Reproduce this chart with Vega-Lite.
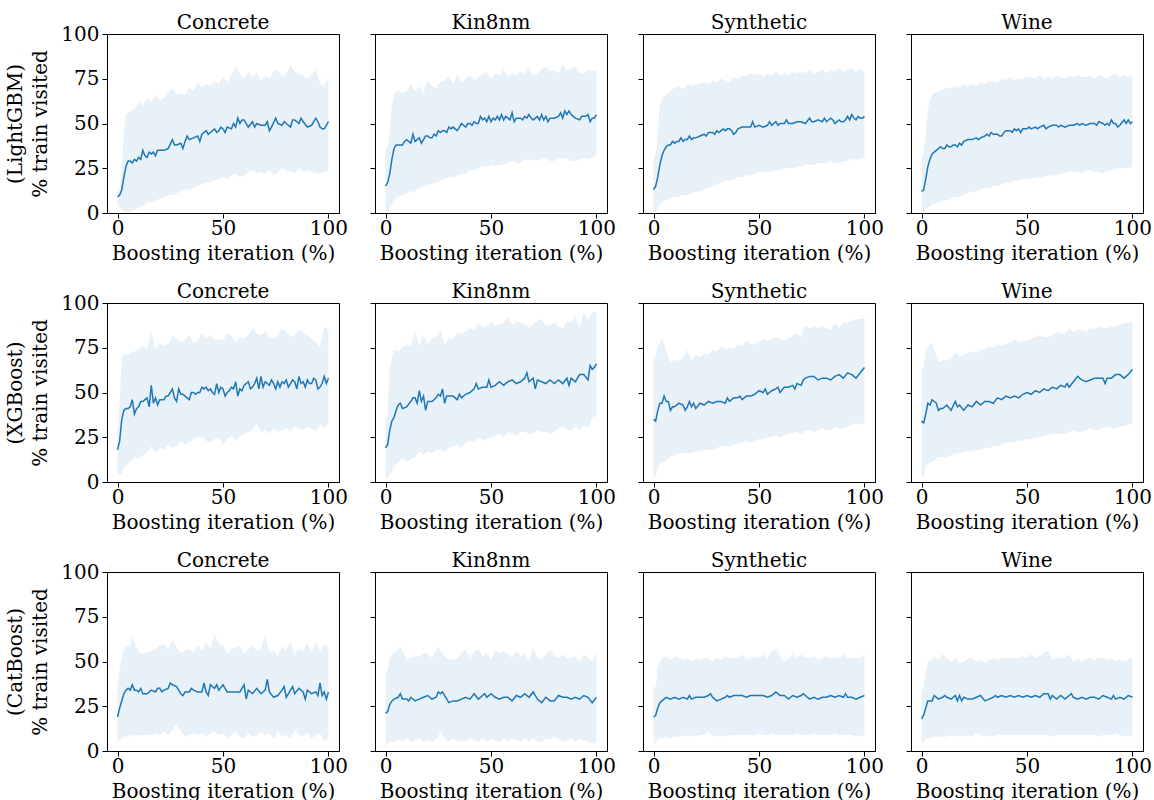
{
"$schema": "https://vega.github.io/schema/vega-lite/v6.json",
"padding": {"left": 5, "top": 12, "right": 5, "bottom": 5},
"config": {
 "font": "DejaVu Serif",
 "view": {"stroke": "#000", "strokeWidth": 1},
 "axis": {"grid": false, "domainColor": "#000", "domainWidth": 1, "tickColor": "#000", "tickWidth": 1, "tickSize": 5, "labelFont": "DejaVu Serif", "labelFontSize": 20, "labelColor": "#000", "labelPadding": 3, "titleFont": "DejaVu Serif", "titleFontSize": 20, "titleFontWeight": "normal", "titleColor": "#000", "labelFlush": false, "labelOverlap": false},
 "axisX": {"titlePadding": 5, "labelPadding": 0},
 "axisY": {"titlePadding": 10, "titleLineHeight": 25},
 "title": {"font": "DejaVu Serif", "fontSize": 20, "fontWeight": "normal", "color": "#000", "offset": 1, "frame": "group"}
},
"datasets": {
"LightGBM_Concrete_mean": [{"x":0,"y":9},{"x":1,"y":10},{"x":2,"y":13},{"x":3,"y":20},{"x":4,"y":26},{"x":5,"y":29},{"x":6,"y":29},{"x":7,"y":28},{"x":8,"y":30},{"x":9,"y":29},{"x":10,"y":31},{"x":11,"y":30},{"x":12,"y":35},{"x":13,"y":32},{"x":14,"y":31},{"x":15,"y":34},{"x":16,"y":33},{"x":17,"y":34},{"x":18,"y":32},{"x":19,"y":35},{"x":20,"y":35},{"x":22,"y":35},{"x":24,"y":36},{"x":26,"y":41},{"x":27,"y":38},{"x":28,"y":38},{"x":30,"y":39},{"x":31,"y":36},{"x":32,"y":40},{"x":33,"y":43},{"x":34,"y":41},{"x":36,"y":42},{"x":38,"y":43},{"x":39,"y":40},{"x":40,"y":44},{"x":42,"y":46},{"x":43,"y":44},{"x":44,"y":45},{"x":46,"y":47},{"x":47,"y":45},{"x":48,"y":46},{"x":49,"y":48},{"x":50,"y":47},{"x":51,"y":45},{"x":52,"y":48},{"x":54,"y":47},{"x":55,"y":50},{"x":56,"y":48},{"x":57,"y":53},{"x":58,"y":50},{"x":59,"y":52},{"x":60,"y":52},{"x":62,"y":48},{"x":64,"y":51},{"x":65,"y":48},{"x":66,"y":50},{"x":68,"y":49},{"x":70,"y":49},{"x":71,"y":51},{"x":72,"y":46},{"x":73,"y":48},{"x":75,"y":53},{"x":76,"y":50},{"x":78,"y":49},{"x":79,"y":51},{"x":80,"y":50},{"x":82,"y":48},{"x":83,"y":52},{"x":84,"y":52},{"x":86,"y":50},{"x":87,"y":53},{"x":88,"y":51},{"x":90,"y":48},{"x":92,"y":49},{"x":94,"y":53},{"x":95,"y":51},{"x":96,"y":48},{"x":97,"y":47},{"x":98,"y":47},{"x":99,"y":49},{"x":100,"y":51}],
"LightGBM_Concrete_band": [{"x":0,"lo":4,"hi":11},{"x":1,"lo":3,"hi":14},{"x":2,"lo":2,"hi":22},{"x":3,"lo":1,"hi":45},{"x":4,"lo":0,"hi":55},{"x":5,"lo":0,"hi":56},{"x":6,"lo":1,"hi":57},{"x":8,"lo":2,"hi":58},{"x":10,"lo":3,"hi":62},{"x":12,"lo":4,"hi":60},{"x":14,"lo":6,"hi":64},{"x":16,"lo":6,"hi":62},{"x":18,"lo":7,"hi":66},{"x":20,"lo":8,"hi":63},{"x":22,"lo":9,"hi":64},{"x":24,"lo":10,"hi":67},{"x":26,"lo":10,"hi":70},{"x":28,"lo":11,"hi":66},{"x":30,"lo":12,"hi":67},{"x":32,"lo":13,"hi":66},{"x":34,"lo":13,"hi":70},{"x":36,"lo":14,"hi":68},{"x":38,"lo":15,"hi":73},{"x":40,"lo":16,"hi":70},{"x":42,"lo":17,"hi":72},{"x":44,"lo":17,"hi":71},{"x":46,"lo":18,"hi":74},{"x":48,"lo":19,"hi":72},{"x":50,"lo":20,"hi":76},{"x":52,"lo":19,"hi":73},{"x":54,"lo":21,"hi":77},{"x":56,"lo":22,"hi":82},{"x":58,"lo":20,"hi":78},{"x":60,"lo":21,"hi":75},{"x":62,"lo":23,"hi":79},{"x":64,"lo":24,"hi":76},{"x":66,"lo":22,"hi":78},{"x":68,"lo":23,"hi":74},{"x":70,"lo":22,"hi":77},{"x":72,"lo":24,"hi":75},{"x":74,"lo":21,"hi":79},{"x":76,"lo":23,"hi":80},{"x":78,"lo":25,"hi":76},{"x":80,"lo":24,"hi":77},{"x":82,"lo":23,"hi":83},{"x":84,"lo":22,"hi":79},{"x":86,"lo":25,"hi":78},{"x":88,"lo":23,"hi":77},{"x":90,"lo":24,"hi":75},{"x":92,"lo":23,"hi":77},{"x":94,"lo":22,"hi":81},{"x":96,"lo":22,"hi":72},{"x":98,"lo":23,"hi":71},{"x":100,"lo":24,"hi":76}],
"LightGBM_Kin8nm_mean": [{"x":0,"y":15},{"x":1,"y":17},{"x":2,"y":22},{"x":3,"y":30},{"x":4,"y":36},{"x":5,"y":38},{"x":6,"y":38},{"x":7,"y":38},{"x":8,"y":38},{"x":9,"y":40},{"x":10,"y":41},{"x":11,"y":40},{"x":12,"y":39},{"x":13,"y":44},{"x":14,"y":40},{"x":15,"y":41},{"x":16,"y":42},{"x":17,"y":39},{"x":18,"y":41},{"x":19,"y":43},{"x":20,"y":43},{"x":21,"y":42},{"x":22,"y":42},{"x":23,"y":44},{"x":24,"y":43},{"x":25,"y":46},{"x":26,"y":45},{"x":27,"y":46},{"x":28,"y":46},{"x":29,"y":45},{"x":30,"y":48},{"x":31,"y":47},{"x":32,"y":48},{"x":33,"y":47},{"x":34,"y":46},{"x":35,"y":48},{"x":36,"y":50},{"x":37,"y":49},{"x":38,"y":48},{"x":39,"y":50},{"x":40,"y":50},{"x":41,"y":49},{"x":42,"y":51},{"x":43,"y":50},{"x":44,"y":50},{"x":45,"y":54},{"x":46,"y":52},{"x":47,"y":53},{"x":48,"y":51},{"x":49,"y":54},{"x":50,"y":51},{"x":51,"y":53},{"x":52,"y":52},{"x":53,"y":54},{"x":54,"y":52},{"x":55,"y":55},{"x":56,"y":52},{"x":57,"y":54},{"x":58,"y":53},{"x":59,"y":52},{"x":60,"y":56},{"x":61,"y":51},{"x":62,"y":53},{"x":64,"y":53},{"x":65,"y":52},{"x":66,"y":54},{"x":67,"y":53},{"x":68,"y":55},{"x":69,"y":53},{"x":70,"y":52},{"x":72,"y":54},{"x":73,"y":52},{"x":74,"y":55},{"x":75,"y":52},{"x":76,"y":54},{"x":77,"y":51},{"x":78,"y":53},{"x":80,"y":53},{"x":82,"y":54},{"x":83,"y":56},{"x":84,"y":53},{"x":85,"y":57},{"x":86,"y":55},{"x":87,"y":57},{"x":88,"y":55},{"x":89,"y":54},{"x":90,"y":53},{"x":92,"y":52},{"x":93,"y":54},{"x":95,"y":54},{"x":96,"y":55},{"x":97,"y":51},{"x":98,"y":53},{"x":99,"y":53},{"x":100,"y":55}],
"LightGBM_Kin8nm_band": [{"x":0,"lo":0,"hi":35},{"x":1,"lo":0,"hi":37},{"x":2,"lo":3,"hi":45},{"x":3,"lo":5,"hi":60},{"x":4,"lo":7,"hi":66},{"x":5,"lo":8,"hi":68},{"x":6,"lo":9,"hi":68},{"x":8,"lo":10,"hi":67},{"x":10,"lo":11,"hi":68},{"x":12,"lo":12,"hi":72},{"x":14,"lo":12,"hi":68},{"x":16,"lo":14,"hi":71},{"x":18,"lo":15,"hi":67},{"x":20,"lo":16,"hi":74},{"x":22,"lo":16,"hi":71},{"x":24,"lo":17,"hi":70},{"x":26,"lo":18,"hi":73},{"x":28,"lo":19,"hi":74},{"x":30,"lo":20,"hi":76},{"x":32,"lo":20,"hi":72},{"x":34,"lo":21,"hi":77},{"x":36,"lo":22,"hi":73},{"x":38,"lo":22,"hi":75},{"x":40,"lo":24,"hi":77},{"x":42,"lo":24,"hi":74},{"x":44,"lo":25,"hi":76},{"x":46,"lo":26,"hi":78},{"x":48,"lo":26,"hi":79},{"x":50,"lo":27,"hi":75},{"x":52,"lo":26,"hi":78},{"x":54,"lo":27,"hi":77},{"x":56,"lo":27,"hi":80},{"x":58,"lo":28,"hi":76},{"x":60,"lo":29,"hi":78},{"x":62,"lo":28,"hi":77},{"x":64,"lo":28,"hi":79},{"x":66,"lo":30,"hi":78},{"x":68,"lo":29,"hi":81},{"x":70,"lo":30,"hi":77},{"x":72,"lo":29,"hi":78},{"x":74,"lo":30,"hi":80},{"x":76,"lo":31,"hi":82},{"x":78,"lo":29,"hi":79},{"x":80,"lo":29,"hi":80},{"x":82,"lo":31,"hi":78},{"x":84,"lo":30,"hi":83},{"x":86,"lo":31,"hi":79},{"x":88,"lo":29,"hi":81},{"x":90,"lo":29,"hi":82},{"x":92,"lo":30,"hi":78},{"x":94,"lo":31,"hi":78},{"x":96,"lo":30,"hi":80},{"x":98,"lo":31,"hi":79},{"x":100,"lo":32,"hi":80}],
"LightGBM_Synthetic_mean": [{"x":0,"y":13},{"x":1,"y":15},{"x":2,"y":20},{"x":3,"y":27},{"x":4,"y":32},{"x":5,"y":35},{"x":6,"y":37},{"x":7,"y":38},{"x":8,"y":38},{"x":9,"y":40},{"x":10,"y":39},{"x":11,"y":40},{"x":12,"y":40},{"x":13,"y":42},{"x":14,"y":40},{"x":15,"y":41},{"x":16,"y":41},{"x":17,"y":43},{"x":18,"y":41},{"x":19,"y":42},{"x":20,"y":42},{"x":22,"y":43},{"x":24,"y":44},{"x":25,"y":43},{"x":26,"y":45},{"x":28,"y":45},{"x":29,"y":44},{"x":30,"y":46},{"x":31,"y":45},{"x":32,"y":46},{"x":33,"y":47},{"x":34,"y":46},{"x":35,"y":47},{"x":36,"y":47},{"x":37,"y":46},{"x":38,"y":44},{"x":39,"y":45},{"x":40,"y":47},{"x":42,"y":48},{"x":44,"y":48},{"x":46,"y":48},{"x":47,"y":51},{"x":48,"y":48},{"x":50,"y":49},{"x":52,"y":48},{"x":54,"y":49},{"x":55,"y":51},{"x":56,"y":49},{"x":58,"y":51},{"x":59,"y":49},{"x":60,"y":50},{"x":62,"y":50},{"x":63,"y":52},{"x":64,"y":50},{"x":66,"y":50},{"x":68,"y":51},{"x":70,"y":51},{"x":72,"y":50},{"x":74,"y":53},{"x":75,"y":51},{"x":76,"y":51},{"x":78,"y":52},{"x":80,"y":51},{"x":81,"y":53},{"x":82,"y":51},{"x":84,"y":53},{"x":85,"y":52},{"x":86,"y":50},{"x":88,"y":52},{"x":89,"y":51},{"x":90,"y":51},{"x":91,"y":52},{"x":92,"y":54},{"x":93,"y":52},{"x":94,"y":55},{"x":95,"y":53},{"x":96,"y":52},{"x":97,"y":54},{"x":98,"y":53},{"x":99,"y":53},{"x":100,"y":54}],
"LightGBM_Synthetic_band": [{"x":0,"lo":0,"hi":30},{"x":1,"lo":0,"hi":33},{"x":2,"lo":3,"hi":45},{"x":3,"lo":5,"hi":60},{"x":4,"lo":6,"hi":63},{"x":5,"lo":7,"hi":65},{"x":6,"lo":7,"hi":66},{"x":8,"lo":8,"hi":68},{"x":10,"lo":9,"hi":70},{"x":12,"lo":9,"hi":71},{"x":14,"lo":10,"hi":69},{"x":16,"lo":10,"hi":72},{"x":18,"lo":11,"hi":71},{"x":20,"lo":12,"hi":72},{"x":22,"lo":12,"hi":72},{"x":24,"lo":13,"hi":73},{"x":26,"lo":14,"hi":72},{"x":28,"lo":15,"hi":74},{"x":30,"lo":16,"hi":73},{"x":32,"lo":17,"hi":75},{"x":34,"lo":18,"hi":74},{"x":36,"lo":18,"hi":73},{"x":38,"lo":19,"hi":76},{"x":40,"lo":20,"hi":75},{"x":42,"lo":20,"hi":77},{"x":44,"lo":21,"hi":76},{"x":46,"lo":21,"hi":78},{"x":48,"lo":22,"hi":77},{"x":50,"lo":23,"hi":78},{"x":52,"lo":23,"hi":76},{"x":54,"lo":23,"hi":78},{"x":56,"lo":23,"hi":77},{"x":58,"lo":24,"hi":79},{"x":60,"lo":24,"hi":77},{"x":62,"lo":25,"hi":78},{"x":64,"lo":25,"hi":77},{"x":66,"lo":25,"hi":79},{"x":68,"lo":26,"hi":78},{"x":70,"lo":26,"hi":79},{"x":72,"lo":27,"hi":78},{"x":74,"lo":27,"hi":80},{"x":76,"lo":27,"hi":78},{"x":78,"lo":28,"hi":79},{"x":80,"lo":28,"hi":80},{"x":82,"lo":28,"hi":78},{"x":84,"lo":29,"hi":80},{"x":86,"lo":28,"hi":79},{"x":88,"lo":28,"hi":81},{"x":90,"lo":29,"hi":79},{"x":92,"lo":29,"hi":80},{"x":94,"lo":30,"hi":81},{"x":96,"lo":30,"hi":79},{"x":98,"lo":30,"hi":80},{"x":100,"lo":31,"hi":79}],
"LightGBM_Wine_mean": [{"x":0,"y":12},{"x":1,"y":13},{"x":2,"y":19},{"x":3,"y":26},{"x":4,"y":30},{"x":5,"y":33},{"x":6,"y":34},{"x":7,"y":35},{"x":8,"y":36},{"x":9,"y":37},{"x":10,"y":36},{"x":11,"y":36},{"x":12,"y":38},{"x":13,"y":37},{"x":14,"y":37},{"x":15,"y":38},{"x":16,"y":38},{"x":17,"y":37},{"x":18,"y":39},{"x":19,"y":38},{"x":20,"y":40},{"x":22,"y":41},{"x":24,"y":41},{"x":26,"y":42},{"x":27,"y":41},{"x":28,"y":42},{"x":30,"y":43},{"x":31,"y":44},{"x":32,"y":43},{"x":33,"y":45},{"x":34,"y":44},{"x":35,"y":44},{"x":36,"y":44},{"x":37,"y":43},{"x":38,"y":43},{"x":39,"y":45},{"x":40,"y":46},{"x":42,"y":46},{"x":43,"y":45},{"x":44,"y":47},{"x":45,"y":46},{"x":46,"y":47},{"x":47,"y":45},{"x":48,"y":47},{"x":50,"y":47},{"x":51,"y":48},{"x":52,"y":47},{"x":54,"y":48},{"x":55,"y":47},{"x":56,"y":48},{"x":58,"y":49},{"x":59,"y":47},{"x":60,"y":48},{"x":62,"y":49},{"x":64,"y":49},{"x":65,"y":48},{"x":66,"y":49},{"x":68,"y":48},{"x":70,"y":49},{"x":72,"y":49},{"x":74,"y":50},{"x":75,"y":49},{"x":76,"y":50},{"x":78,"y":49},{"x":80,"y":50},{"x":82,"y":50},{"x":83,"y":49},{"x":84,"y":51},{"x":86,"y":50},{"x":87,"y":49},{"x":88,"y":50},{"x":89,"y":49},{"x":90,"y":52},{"x":91,"y":50},{"x":92,"y":50},{"x":93,"y":48},{"x":94,"y":49},{"x":96,"y":52},{"x":97,"y":50},{"x":98,"y":52},{"x":99,"y":50},{"x":100,"y":51}],
"LightGBM_Wine_band": [{"x":0,"lo":0,"hi":29},{"x":1,"lo":0,"hi":33},{"x":2,"lo":2,"hi":45},{"x":3,"lo":3,"hi":58},{"x":4,"lo":4,"hi":63},{"x":5,"lo":5,"hi":66},{"x":6,"lo":5,"hi":67},{"x":8,"lo":6,"hi":68},{"x":10,"lo":7,"hi":69},{"x":12,"lo":7,"hi":70},{"x":14,"lo":8,"hi":70},{"x":16,"lo":9,"hi":71},{"x":18,"lo":9,"hi":70},{"x":20,"lo":10,"hi":72},{"x":22,"lo":11,"hi":71},{"x":24,"lo":12,"hi":72},{"x":26,"lo":12,"hi":71},{"x":28,"lo":13,"hi":73},{"x":30,"lo":14,"hi":72},{"x":32,"lo":14,"hi":74},{"x":34,"lo":15,"hi":73},{"x":36,"lo":15,"hi":73},{"x":38,"lo":16,"hi":75},{"x":40,"lo":17,"hi":74},{"x":42,"lo":17,"hi":76},{"x":44,"lo":18,"hi":74},{"x":46,"lo":18,"hi":75},{"x":48,"lo":19,"hi":75},{"x":50,"lo":19,"hi":76},{"x":52,"lo":19,"hi":76},{"x":54,"lo":20,"hi":75},{"x":56,"lo":20,"hi":77},{"x":58,"lo":20,"hi":75},{"x":60,"lo":21,"hi":76},{"x":62,"lo":21,"hi":75},{"x":64,"lo":21,"hi":77},{"x":66,"lo":22,"hi":76},{"x":68,"lo":22,"hi":75},{"x":70,"lo":23,"hi":77},{"x":72,"lo":23,"hi":76},{"x":74,"lo":23,"hi":77},{"x":76,"lo":22,"hi":76},{"x":78,"lo":24,"hi":76},{"x":80,"lo":24,"hi":77},{"x":82,"lo":23,"hi":75},{"x":84,"lo":23,"hi":77},{"x":86,"lo":22,"hi":76},{"x":88,"lo":23,"hi":75},{"x":90,"lo":24,"hi":77},{"x":92,"lo":25,"hi":78},{"x":94,"lo":25,"hi":76},{"x":96,"lo":25,"hi":77},{"x":98,"lo":25,"hi":76},{"x":100,"lo":26,"hi":77}],
"XGBoost_Concrete_mean": [{"x":0,"y":18},{"x":1,"y":23},{"x":2,"y":35},{"x":3,"y":40},{"x":4,"y":41},{"x":5,"y":41},{"x":6,"y":42},{"x":7,"y":46},{"x":8,"y":38},{"x":9,"y":41},{"x":10,"y":42},{"x":11,"y":45},{"x":12,"y":45},{"x":13,"y":46},{"x":14,"y":47},{"x":15,"y":42},{"x":16,"y":54},{"x":17,"y":44},{"x":18,"y":47},{"x":19,"y":43},{"x":20,"y":46},{"x":21,"y":46},{"x":22,"y":46},{"x":23,"y":48},{"x":24,"y":48},{"x":25,"y":50},{"x":26,"y":52},{"x":27,"y":47},{"x":28,"y":45},{"x":29,"y":52},{"x":30,"y":49},{"x":31,"y":49},{"x":32,"y":48},{"x":33,"y":47},{"x":34,"y":46},{"x":35,"y":50},{"x":36,"y":50},{"x":37,"y":49},{"x":38,"y":50},{"x":39,"y":50},{"x":40,"y":53},{"x":41,"y":52},{"x":42,"y":53},{"x":43,"y":51},{"x":44,"y":52},{"x":45,"y":50},{"x":46,"y":49},{"x":47,"y":55},{"x":48,"y":50},{"x":49,"y":53},{"x":50,"y":52},{"x":51,"y":48},{"x":52,"y":50},{"x":53,"y":51},{"x":54,"y":53},{"x":55,"y":52},{"x":56,"y":56},{"x":57,"y":48},{"x":58,"y":52},{"x":59,"y":51},{"x":60,"y":54},{"x":61,"y":55},{"x":62,"y":56},{"x":63,"y":52},{"x":64,"y":53},{"x":65,"y":55},{"x":66,"y":58},{"x":67,"y":52},{"x":68,"y":59},{"x":69,"y":53},{"x":70,"y":56},{"x":71,"y":55},{"x":72,"y":54},{"x":73,"y":57},{"x":74,"y":55},{"x":75,"y":52},{"x":76,"y":56},{"x":77,"y":53},{"x":78,"y":56},{"x":79,"y":55},{"x":80,"y":57},{"x":81,"y":53},{"x":82,"y":55},{"x":83,"y":57},{"x":84,"y":56},{"x":85,"y":52},{"x":86,"y":59},{"x":87,"y":55},{"x":88,"y":56},{"x":89,"y":53},{"x":90,"y":57},{"x":91,"y":55},{"x":92,"y":55},{"x":93,"y":58},{"x":94,"y":57},{"x":95,"y":52},{"x":96,"y":53},{"x":97,"y":55},{"x":98,"y":59},{"x":99,"y":55},{"x":100,"y":58}],
"XGBoost_Concrete_band": [{"x":0,"lo":5,"hi":25},{"x":1,"lo":4,"hi":45},{"x":2,"lo":5,"hi":70},{"x":3,"lo":8,"hi":72},{"x":4,"lo":9,"hi":71},{"x":5,"lo":10,"hi":71},{"x":6,"lo":11,"hi":72},{"x":8,"lo":14,"hi":73},{"x":10,"lo":13,"hi":74},{"x":12,"lo":15,"hi":76},{"x":14,"lo":17,"hi":74},{"x":16,"lo":20,"hi":84},{"x":18,"lo":16,"hi":74},{"x":20,"lo":19,"hi":78},{"x":22,"lo":18,"hi":76},{"x":24,"lo":21,"hi":77},{"x":26,"lo":19,"hi":82},{"x":28,"lo":20,"hi":80},{"x":30,"lo":23,"hi":78},{"x":32,"lo":21,"hi":79},{"x":34,"lo":22,"hi":82},{"x":36,"lo":24,"hi":78},{"x":38,"lo":25,"hi":79},{"x":40,"lo":25,"hi":83},{"x":42,"lo":23,"hi":80},{"x":44,"lo":22,"hi":82},{"x":46,"lo":24,"hi":79},{"x":48,"lo":25,"hi":80},{"x":50,"lo":21,"hi":79},{"x":52,"lo":24,"hi":83},{"x":54,"lo":26,"hi":82},{"x":56,"lo":23,"hi":78},{"x":58,"lo":25,"hi":81},{"x":60,"lo":27,"hi":80},{"x":62,"lo":28,"hi":82},{"x":64,"lo":29,"hi":86},{"x":66,"lo":33,"hi":83},{"x":68,"lo":28,"hi":82},{"x":70,"lo":29,"hi":84},{"x":72,"lo":27,"hi":81},{"x":74,"lo":30,"hi":80},{"x":76,"lo":28,"hi":82},{"x":78,"lo":29,"hi":86},{"x":80,"lo":30,"hi":84},{"x":82,"lo":28,"hi":81},{"x":84,"lo":31,"hi":82},{"x":86,"lo":30,"hi":85},{"x":88,"lo":29,"hi":84},{"x":90,"lo":31,"hi":82},{"x":92,"lo":30,"hi":80},{"x":94,"lo":28,"hi":78},{"x":96,"lo":32,"hi":75},{"x":98,"lo":30,"hi":87},{"x":100,"lo":33,"hi":85}],
"XGBoost_Kin8nm_mean": [{"x":0,"y":19},{"x":1,"y":21},{"x":2,"y":29},{"x":3,"y":34},{"x":4,"y":36},{"x":5,"y":40},{"x":6,"y":43},{"x":7,"y":44},{"x":8,"y":41},{"x":10,"y":42},{"x":12,"y":45},{"x":13,"y":47},{"x":14,"y":47},{"x":15,"y":44},{"x":16,"y":51},{"x":17,"y":45},{"x":18,"y":48},{"x":19,"y":40},{"x":20,"y":45},{"x":22,"y":45},{"x":24,"y":47},{"x":25,"y":49},{"x":26,"y":48},{"x":27,"y":52},{"x":28,"y":44},{"x":29,"y":48},{"x":30,"y":48},{"x":32,"y":48},{"x":34,"y":46},{"x":35,"y":49},{"x":36,"y":47},{"x":38,"y":49},{"x":40,"y":50},{"x":42,"y":52},{"x":43,"y":55},{"x":44,"y":52},{"x":46,"y":53},{"x":48,"y":53},{"x":49,"y":57},{"x":50,"y":53},{"x":52,"y":54},{"x":54,"y":56},{"x":56,"y":54},{"x":58,"y":56},{"x":60,"y":57},{"x":62,"y":55},{"x":64,"y":56},{"x":66,"y":58},{"x":67,"y":61},{"x":68,"y":56},{"x":70,"y":58},{"x":71,"y":52},{"x":72,"y":57},{"x":74,"y":56},{"x":76,"y":55},{"x":78,"y":57},{"x":80,"y":55},{"x":82,"y":57},{"x":84,"y":55},{"x":86,"y":58},{"x":87,"y":54},{"x":88,"y":58},{"x":90,"y":56},{"x":92,"y":60},{"x":94,"y":60},{"x":96,"y":57},{"x":97,"y":65},{"x":98,"y":63},{"x":99,"y":64},{"x":100,"y":66}],
"XGBoost_Kin8nm_band": [{"x":0,"lo":2,"hi":36},{"x":1,"lo":2,"hi":38},{"x":2,"lo":4,"hi":64},{"x":3,"lo":6,"hi":69},{"x":4,"lo":9,"hi":74},{"x":6,"lo":11,"hi":73},{"x":8,"lo":13,"hi":75},{"x":10,"lo":11,"hi":77},{"x":12,"lo":13,"hi":76},{"x":14,"lo":14,"hi":84},{"x":16,"lo":17,"hi":76},{"x":18,"lo":15,"hi":83},{"x":20,"lo":17,"hi":77},{"x":22,"lo":16,"hi":80},{"x":24,"lo":18,"hi":81},{"x":26,"lo":18,"hi":85},{"x":28,"lo":17,"hi":77},{"x":30,"lo":19,"hi":80},{"x":32,"lo":20,"hi":80},{"x":34,"lo":21,"hi":83},{"x":36,"lo":19,"hi":83},{"x":38,"lo":22,"hi":84},{"x":40,"lo":23,"hi":86},{"x":42,"lo":22,"hi":85},{"x":44,"lo":25,"hi":89},{"x":46,"lo":23,"hi":86},{"x":48,"lo":24,"hi":87},{"x":50,"lo":25,"hi":90},{"x":52,"lo":26,"hi":87},{"x":54,"lo":27,"hi":88},{"x":56,"lo":25,"hi":89},{"x":58,"lo":28,"hi":92},{"x":60,"lo":27,"hi":88},{"x":62,"lo":26,"hi":90},{"x":64,"lo":28,"hi":89},{"x":66,"lo":28,"hi":88},{"x":68,"lo":27,"hi":86},{"x":70,"lo":27,"hi":88},{"x":72,"lo":29,"hi":90},{"x":74,"lo":28,"hi":91},{"x":76,"lo":28,"hi":87},{"x":78,"lo":27,"hi":88},{"x":80,"lo":28,"hi":89},{"x":82,"lo":30,"hi":87},{"x":84,"lo":31,"hi":86},{"x":86,"lo":29,"hi":90},{"x":88,"lo":29,"hi":89},{"x":90,"lo":31,"hi":93},{"x":92,"lo":29,"hi":86},{"x":94,"lo":32,"hi":95},{"x":96,"lo":30,"hi":91},{"x":98,"lo":36,"hi":95},{"x":100,"lo":37,"hi":95}],
"XGBoost_Synthetic_mean": [{"x":0,"y":35},{"x":1,"y":34},{"x":2,"y":40},{"x":3,"y":44},{"x":4,"y":44},{"x":5,"y":48},{"x":6,"y":45},{"x":7,"y":45},{"x":8,"y":40},{"x":9,"y":42},{"x":10,"y":42},{"x":12,"y":44},{"x":14,"y":43},{"x":15,"y":40},{"x":16,"y":42},{"x":17,"y":45},{"x":18,"y":42},{"x":19,"y":44},{"x":20,"y":41},{"x":22,"y":44},{"x":24,"y":43},{"x":26,"y":45},{"x":28,"y":44},{"x":30,"y":45},{"x":32,"y":45},{"x":34,"y":44},{"x":35,"y":47},{"x":36,"y":45},{"x":38,"y":47},{"x":40,"y":47},{"x":41,"y":48},{"x":42,"y":46},{"x":44,"y":48},{"x":46,"y":48},{"x":48,"y":49},{"x":50,"y":51},{"x":52,"y":50},{"x":53,"y":52},{"x":54,"y":49},{"x":56,"y":51},{"x":58,"y":52},{"x":59,"y":53},{"x":60,"y":50},{"x":62,"y":53},{"x":64,"y":53},{"x":66,"y":54},{"x":67,"y":52},{"x":68,"y":55},{"x":70,"y":54},{"x":71,"y":57},{"x":72,"y":58},{"x":74,"y":59},{"x":76,"y":59},{"x":78,"y":57},{"x":80,"y":58},{"x":82,"y":58},{"x":84,"y":57},{"x":86,"y":59},{"x":88,"y":60},{"x":90,"y":58},{"x":92,"y":61},{"x":94,"y":60},{"x":96,"y":58},{"x":98,"y":61},{"x":100,"y":64}],
"XGBoost_Synthetic_band": [{"x":0,"lo":2,"hi":68},{"x":1,"lo":3,"hi":70},{"x":2,"lo":8,"hi":75},{"x":4,"lo":11,"hi":80},{"x":5,"lo":11,"hi":77},{"x":6,"lo":12,"hi":73},{"x":8,"lo":14,"hi":67},{"x":10,"lo":15,"hi":68},{"x":12,"lo":16,"hi":68},{"x":14,"lo":16,"hi":69},{"x":16,"lo":16,"hi":74},{"x":18,"lo":16,"hi":68},{"x":20,"lo":17,"hi":71},{"x":22,"lo":17,"hi":70},{"x":24,"lo":18,"hi":72},{"x":26,"lo":18,"hi":71},{"x":28,"lo":18,"hi":74},{"x":30,"lo":19,"hi":73},{"x":32,"lo":20,"hi":76},{"x":34,"lo":20,"hi":74},{"x":36,"lo":20,"hi":75},{"x":38,"lo":21,"hi":74},{"x":40,"lo":21,"hi":77},{"x":42,"lo":22,"hi":76},{"x":44,"lo":23,"hi":79},{"x":46,"lo":22,"hi":77},{"x":48,"lo":23,"hi":77},{"x":50,"lo":24,"hi":78},{"x":52,"lo":24,"hi":80},{"x":54,"lo":25,"hi":79},{"x":56,"lo":25,"hi":80},{"x":58,"lo":26,"hi":81},{"x":60,"lo":25,"hi":80},{"x":62,"lo":26,"hi":79},{"x":64,"lo":27,"hi":80},{"x":66,"lo":27,"hi":82},{"x":68,"lo":28,"hi":83},{"x":70,"lo":27,"hi":81},{"x":71,"lo":28,"hi":86},{"x":72,"lo":29,"hi":87},{"x":74,"lo":29,"hi":86},{"x":76,"lo":28,"hi":87},{"x":78,"lo":29,"hi":86},{"x":80,"lo":30,"hi":87},{"x":82,"lo":29,"hi":86},{"x":84,"lo":29,"hi":85},{"x":86,"lo":31,"hi":89},{"x":88,"lo":30,"hi":86},{"x":90,"lo":30,"hi":89},{"x":92,"lo":31,"hi":89},{"x":94,"lo":32,"hi":90},{"x":96,"lo":33,"hi":91},{"x":98,"lo":32,"hi":91},{"x":100,"lo":33,"hi":92}],
"XGBoost_Wine_mean": [{"x":0,"y":34},{"x":1,"y":33},{"x":2,"y":38},{"x":3,"y":44},{"x":4,"y":43},{"x":5,"y":46},{"x":6,"y":45},{"x":7,"y":44},{"x":8,"y":40},{"x":9,"y":41},{"x":10,"y":41},{"x":12,"y":43},{"x":14,"y":40},{"x":16,"y":45},{"x":17,"y":42},{"x":18,"y":43},{"x":20,"y":40},{"x":22,"y":43},{"x":24,"y":42},{"x":26,"y":45},{"x":28,"y":43},{"x":30,"y":45},{"x":32,"y":45},{"x":34,"y":44},{"x":36,"y":47},{"x":38,"y":46},{"x":40,"y":48},{"x":42,"y":47},{"x":44,"y":48},{"x":46,"y":47},{"x":48,"y":49},{"x":50,"y":50},{"x":52,"y":49},{"x":54,"y":51},{"x":56,"y":50},{"x":58,"y":52},{"x":60,"y":51},{"x":62,"y":53},{"x":64,"y":52},{"x":66,"y":54},{"x":68,"y":53},{"x":69,"y":55},{"x":70,"y":53},{"x":72,"y":56},{"x":74,"y":59},{"x":76,"y":57},{"x":78,"y":56},{"x":80,"y":57},{"x":82,"y":58},{"x":84,"y":58},{"x":86,"y":58},{"x":87,"y":55},{"x":88,"y":58},{"x":90,"y":58},{"x":92,"y":60},{"x":94,"y":60},{"x":96,"y":58},{"x":98,"y":60},{"x":100,"y":63}],
"XGBoost_Wine_band": [{"x":0,"lo":2,"hi":64},{"x":1,"lo":3,"hi":63},{"x":2,"lo":9,"hi":74},{"x":4,"lo":11,"hi":77},{"x":5,"lo":11,"hi":78},{"x":6,"lo":12,"hi":74},{"x":8,"lo":14,"hi":67},{"x":10,"lo":14,"hi":68},{"x":12,"lo":14,"hi":68},{"x":14,"lo":15,"hi":69},{"x":16,"lo":16,"hi":72},{"x":18,"lo":16,"hi":70},{"x":20,"lo":17,"hi":71},{"x":22,"lo":17,"hi":72},{"x":24,"lo":17,"hi":73},{"x":26,"lo":18,"hi":72},{"x":28,"lo":18,"hi":74},{"x":30,"lo":19,"hi":74},{"x":32,"lo":19,"hi":76},{"x":34,"lo":20,"hi":75},{"x":36,"lo":20,"hi":77},{"x":38,"lo":21,"hi":76},{"x":40,"lo":22,"hi":77},{"x":42,"lo":22,"hi":78},{"x":44,"lo":22,"hi":80},{"x":46,"lo":23,"hi":78},{"x":48,"lo":23,"hi":79},{"x":50,"lo":24,"hi":79},{"x":52,"lo":24,"hi":80},{"x":54,"lo":25,"hi":81},{"x":56,"lo":25,"hi":82},{"x":58,"lo":26,"hi":81},{"x":60,"lo":26,"hi":81},{"x":62,"lo":27,"hi":82},{"x":64,"lo":27,"hi":84},{"x":66,"lo":27,"hi":83},{"x":68,"lo":27,"hi":83},{"x":70,"lo":28,"hi":86},{"x":72,"lo":29,"hi":84},{"x":74,"lo":28,"hi":85},{"x":76,"lo":28,"hi":85},{"x":78,"lo":29,"hi":84},{"x":80,"lo":30,"hi":86},{"x":82,"lo":29,"hi":85},{"x":84,"lo":29,"hi":87},{"x":86,"lo":30,"hi":86},{"x":88,"lo":31,"hi":86},{"x":90,"lo":30,"hi":87},{"x":92,"lo":30,"hi":87},{"x":94,"lo":31,"hi":88},{"x":96,"lo":31,"hi":89},{"x":98,"lo":32,"hi":89},{"x":100,"lo":33,"hi":90}],
"CatBoost_Concrete_mean": [{"x":0,"y":19},{"x":1,"y":24},{"x":2,"y":28},{"x":3,"y":32},{"x":4,"y":34},{"x":5,"y":35},{"x":6,"y":34},{"x":7,"y":37},{"x":8,"y":34},{"x":9,"y":34},{"x":10,"y":33},{"x":11,"y":35},{"x":12,"y":32},{"x":14,"y":32},{"x":16,"y":34},{"x":18,"y":33},{"x":19,"y":35},{"x":20,"y":35},{"x":21,"y":33},{"x":22,"y":34},{"x":24,"y":35},{"x":25,"y":38},{"x":26,"y":37},{"x":28,"y":36},{"x":30,"y":32},{"x":31,"y":31},{"x":32,"y":33},{"x":34,"y":33},{"x":35,"y":35},{"x":36,"y":34},{"x":38,"y":33},{"x":40,"y":33},{"x":41,"y":38},{"x":42,"y":33},{"x":43,"y":31},{"x":44,"y":37},{"x":46,"y":35},{"x":47,"y":37},{"x":48,"y":34},{"x":50,"y":37},{"x":52,"y":33},{"x":54,"y":33},{"x":56,"y":33},{"x":58,"y":33},{"x":60,"y":37},{"x":61,"y":29},{"x":62,"y":34},{"x":64,"y":32},{"x":66,"y":35},{"x":68,"y":32},{"x":70,"y":34},{"x":71,"y":40},{"x":72,"y":33},{"x":74,"y":30},{"x":76,"y":31},{"x":78,"y":34},{"x":79,"y":36},{"x":80,"y":30},{"x":82,"y":34},{"x":83,"y":36},{"x":84,"y":32},{"x":86,"y":35},{"x":88,"y":33},{"x":89,"y":29},{"x":90,"y":34},{"x":92,"y":32},{"x":94,"y":33},{"x":95,"y":31},{"x":96,"y":38},{"x":97,"y":31},{"x":98,"y":33},{"x":99,"y":29},{"x":100,"y":33}],
"CatBoost_Concrete_band": [{"x":0,"lo":4,"hi":37},{"x":1,"lo":6,"hi":46},{"x":2,"lo":7,"hi":52},{"x":3,"lo":8,"hi":57},{"x":4,"lo":8,"hi":59},{"x":6,"lo":9,"hi":59},{"x":7,"lo":9,"hi":65},{"x":8,"lo":8,"hi":61},{"x":10,"lo":9,"hi":55},{"x":12,"lo":9,"hi":54},{"x":14,"lo":9,"hi":55},{"x":16,"lo":9,"hi":56},{"x":18,"lo":10,"hi":57},{"x":20,"lo":9,"hi":59},{"x":22,"lo":11,"hi":60},{"x":24,"lo":9,"hi":56},{"x":26,"lo":12,"hi":62},{"x":28,"lo":15,"hi":58},{"x":30,"lo":11,"hi":55},{"x":32,"lo":8,"hi":56},{"x":34,"lo":9,"hi":57},{"x":36,"lo":10,"hi":55},{"x":38,"lo":9,"hi":59},{"x":40,"lo":10,"hi":56},{"x":42,"lo":8,"hi":61},{"x":44,"lo":10,"hi":57},{"x":46,"lo":11,"hi":65},{"x":48,"lo":9,"hi":60},{"x":50,"lo":10,"hi":59},{"x":52,"lo":7,"hi":54},{"x":54,"lo":9,"hi":57},{"x":56,"lo":11,"hi":58},{"x":58,"lo":8,"hi":59},{"x":60,"lo":7,"hi":54},{"x":62,"lo":10,"hi":57},{"x":64,"lo":8,"hi":59},{"x":66,"lo":9,"hi":56},{"x":68,"lo":11,"hi":57},{"x":70,"lo":9,"hi":65},{"x":72,"lo":10,"hi":55},{"x":74,"lo":7,"hi":56},{"x":76,"lo":11,"hi":53},{"x":78,"lo":8,"hi":59},{"x":80,"lo":9,"hi":56},{"x":82,"lo":7,"hi":61},{"x":84,"lo":12,"hi":54},{"x":86,"lo":9,"hi":57},{"x":88,"lo":8,"hi":56},{"x":90,"lo":10,"hi":60},{"x":92,"lo":7,"hi":55},{"x":94,"lo":9,"hi":61},{"x":96,"lo":10,"hi":55},{"x":98,"lo":5,"hi":60},{"x":100,"lo":7,"hi":58}],
"CatBoost_Kin8nm_mean": [{"x":0,"y":21},{"x":1,"y":22},{"x":2,"y":26},{"x":3,"y":28},{"x":4,"y":29},{"x":6,"y":30},{"x":7,"y":32},{"x":8,"y":29},{"x":10,"y":29},{"x":11,"y":28},{"x":12,"y":30},{"x":14,"y":28},{"x":16,"y":29},{"x":18,"y":30},{"x":20,"y":31},{"x":22,"y":29},{"x":24,"y":30},{"x":25,"y":33},{"x":26,"y":32},{"x":27,"y":33},{"x":28,"y":31},{"x":30,"y":27},{"x":32,"y":28},{"x":34,"y":28},{"x":36,"y":29},{"x":38,"y":30},{"x":40,"y":29},{"x":42,"y":32},{"x":44,"y":29},{"x":46,"y":31},{"x":47,"y":32},{"x":48,"y":30},{"x":50,"y":32},{"x":52,"y":30},{"x":54,"y":29},{"x":56,"y":30},{"x":58,"y":30},{"x":60,"y":28},{"x":62,"y":31},{"x":64,"y":30},{"x":66,"y":32},{"x":68,"y":30},{"x":70,"y":33},{"x":72,"y":29},{"x":74,"y":27},{"x":76,"y":30},{"x":78,"y":28},{"x":80,"y":28},{"x":82,"y":31},{"x":84,"y":30},{"x":86,"y":30},{"x":88,"y":29},{"x":90,"y":30},{"x":92,"y":29},{"x":94,"y":31},{"x":96,"y":30},{"x":98,"y":27},{"x":100,"y":30}],
"CatBoost_Kin8nm_band": [{"x":0,"lo":2,"hi":41},{"x":1,"lo":4,"hi":46},{"x":2,"lo":5,"hi":52},{"x":3,"lo":5,"hi":54},{"x":4,"lo":5,"hi":55},{"x":6,"lo":6,"hi":56},{"x":7,"lo":6,"hi":59},{"x":8,"lo":5,"hi":56},{"x":10,"lo":7,"hi":51},{"x":12,"lo":5,"hi":52},{"x":14,"lo":6,"hi":53},{"x":16,"lo":7,"hi":53},{"x":18,"lo":5,"hi":55},{"x":20,"lo":6,"hi":54},{"x":22,"lo":5,"hi":52},{"x":24,"lo":7,"hi":56},{"x":25,"lo":8,"hi":59},{"x":26,"lo":11,"hi":56},{"x":28,"lo":7,"hi":53},{"x":30,"lo":5,"hi":51},{"x":32,"lo":7,"hi":51},{"x":34,"lo":5,"hi":52},{"x":36,"lo":6,"hi":54},{"x":38,"lo":5,"hi":57},{"x":40,"lo":7,"hi":51},{"x":42,"lo":6,"hi":56},{"x":44,"lo":5,"hi":57},{"x":46,"lo":7,"hi":53},{"x":48,"lo":5,"hi":55},{"x":50,"lo":7,"hi":51},{"x":52,"lo":6,"hi":56},{"x":54,"lo":5,"hi":55},{"x":56,"lo":7,"hi":56},{"x":58,"lo":5,"hi":54},{"x":60,"lo":7,"hi":52},{"x":62,"lo":6,"hi":56},{"x":64,"lo":5,"hi":53},{"x":66,"lo":7,"hi":54},{"x":68,"lo":5,"hi":50},{"x":70,"lo":7,"hi":58},{"x":72,"lo":5,"hi":52},{"x":74,"lo":5,"hi":51},{"x":76,"lo":7,"hi":54},{"x":78,"lo":6,"hi":56},{"x":80,"lo":8,"hi":53},{"x":82,"lo":7,"hi":52},{"x":84,"lo":5,"hi":54},{"x":86,"lo":6,"hi":52},{"x":88,"lo":7,"hi":52},{"x":90,"lo":5,"hi":53},{"x":92,"lo":7,"hi":50},{"x":94,"lo":6,"hi":54},{"x":96,"lo":5,"hi":52},{"x":98,"lo":4,"hi":50},{"x":100,"lo":5,"hi":55}],
"CatBoost_Synthetic_mean": [{"x":0,"y":19},{"x":1,"y":20},{"x":2,"y":24},{"x":3,"y":27},{"x":4,"y":28},{"x":5,"y":29},{"x":6,"y":30},{"x":8,"y":29},{"x":10,"y":30},{"x":12,"y":29},{"x":14,"y":30},{"x":16,"y":29},{"x":17,"y":31},{"x":18,"y":29},{"x":20,"y":30},{"x":22,"y":30},{"x":24,"y":30},{"x":26,"y":31},{"x":27,"y":32},{"x":28,"y":30},{"x":30,"y":28},{"x":32,"y":29},{"x":34,"y":30},{"x":35,"y":31},{"x":36,"y":30},{"x":38,"y":31},{"x":40,"y":31},{"x":42,"y":31},{"x":44,"y":30},{"x":46,"y":31},{"x":48,"y":31},{"x":50,"y":31},{"x":52,"y":31},{"x":54,"y":30},{"x":56,"y":31},{"x":58,"y":33},{"x":60,"y":31},{"x":62,"y":31},{"x":64,"y":29},{"x":66,"y":31},{"x":68,"y":30},{"x":70,"y":31},{"x":71,"y":32},{"x":72,"y":31},{"x":74,"y":29},{"x":76,"y":30},{"x":78,"y":29},{"x":80,"y":30},{"x":82,"y":30},{"x":84,"y":31},{"x":86,"y":30},{"x":88,"y":31},{"x":90,"y":30},{"x":91,"y":32},{"x":92,"y":30},{"x":94,"y":30},{"x":96,"y":29},{"x":98,"y":30},{"x":100,"y":31}],
"CatBoost_Synthetic_band": [{"x":0,"lo":3,"hi":35},{"x":1,"lo":5,"hi":36},{"x":2,"lo":6,"hi":46},{"x":3,"lo":7,"hi":50},{"x":4,"lo":7,"hi":52},{"x":6,"lo":8,"hi":53},{"x":8,"lo":7,"hi":51},{"x":10,"lo":8,"hi":53},{"x":12,"lo":8,"hi":52},{"x":14,"lo":9,"hi":51},{"x":16,"lo":8,"hi":52},{"x":18,"lo":9,"hi":50},{"x":20,"lo":8,"hi":52},{"x":22,"lo":9,"hi":51},{"x":24,"lo":9,"hi":52},{"x":26,"lo":11,"hi":52},{"x":28,"lo":9,"hi":50},{"x":30,"lo":8,"hi":52},{"x":32,"lo":9,"hi":51},{"x":34,"lo":8,"hi":53},{"x":36,"lo":9,"hi":52},{"x":38,"lo":9,"hi":52},{"x":40,"lo":9,"hi":52},{"x":42,"lo":9,"hi":54},{"x":44,"lo":9,"hi":51},{"x":46,"lo":9,"hi":52},{"x":48,"lo":9,"hi":53},{"x":50,"lo":10,"hi":52},{"x":52,"lo":9,"hi":54},{"x":54,"lo":9,"hi":52},{"x":56,"lo":10,"hi":56},{"x":58,"lo":9,"hi":57},{"x":60,"lo":9,"hi":53},{"x":62,"lo":9,"hi":50},{"x":64,"lo":9,"hi":52},{"x":66,"lo":9,"hi":54},{"x":68,"lo":10,"hi":52},{"x":70,"lo":9,"hi":54},{"x":72,"lo":9,"hi":52},{"x":74,"lo":9,"hi":52},{"x":76,"lo":10,"hi":53},{"x":78,"lo":9,"hi":51},{"x":80,"lo":9,"hi":52},{"x":82,"lo":9,"hi":53},{"x":84,"lo":9,"hi":52},{"x":86,"lo":10,"hi":52},{"x":88,"lo":9,"hi":52},{"x":90,"lo":9,"hi":54},{"x":92,"lo":9,"hi":52},{"x":94,"lo":9,"hi":52},{"x":96,"lo":8,"hi":52},{"x":98,"lo":9,"hi":52},{"x":100,"lo":8,"hi":54}],
"CatBoost_Wine_mean": [{"x":0,"y":18},{"x":1,"y":20},{"x":2,"y":24},{"x":3,"y":28},{"x":4,"y":28},{"x":5,"y":28},{"x":6,"y":31},{"x":8,"y":29},{"x":10,"y":30},{"x":11,"y":31},{"x":12,"y":30},{"x":14,"y":29},{"x":16,"y":31},{"x":17,"y":28},{"x":18,"y":31},{"x":19,"y":28},{"x":20,"y":30},{"x":22,"y":29},{"x":24,"y":29},{"x":26,"y":30},{"x":28,"y":31},{"x":30,"y":28},{"x":32,"y":29},{"x":34,"y":30},{"x":35,"y":31},{"x":36,"y":30},{"x":38,"y":31},{"x":40,"y":30},{"x":42,"y":31},{"x":44,"y":30},{"x":46,"y":31},{"x":48,"y":30},{"x":50,"y":31},{"x":52,"y":30},{"x":54,"y":31},{"x":56,"y":30},{"x":58,"y":32},{"x":60,"y":32},{"x":61,"y":29},{"x":62,"y":31},{"x":64,"y":29},{"x":66,"y":31},{"x":68,"y":29},{"x":70,"y":31},{"x":71,"y":32},{"x":72,"y":30},{"x":74,"y":29},{"x":76,"y":30},{"x":78,"y":29},{"x":80,"y":30},{"x":82,"y":30},{"x":84,"y":29},{"x":86,"y":31},{"x":88,"y":30},{"x":90,"y":29},{"x":91,"y":31},{"x":92,"y":29},{"x":94,"y":30},{"x":96,"y":29},{"x":98,"y":31},{"x":100,"y":30}],
"CatBoost_Wine_band": [{"x":0,"lo":3,"hi":34},{"x":1,"lo":5,"hi":35},{"x":2,"lo":7,"hi":44},{"x":3,"lo":7,"hi":50},{"x":4,"lo":7,"hi":50},{"x":6,"lo":8,"hi":53},{"x":8,"lo":8,"hi":51},{"x":10,"lo":8,"hi":54},{"x":12,"lo":8,"hi":52},{"x":14,"lo":9,"hi":50},{"x":16,"lo":8,"hi":52},{"x":18,"lo":9,"hi":49},{"x":20,"lo":8,"hi":50},{"x":22,"lo":9,"hi":52},{"x":24,"lo":8,"hi":52},{"x":26,"lo":10,"hi":50},{"x":28,"lo":9,"hi":51},{"x":30,"lo":8,"hi":49},{"x":32,"lo":9,"hi":51},{"x":34,"lo":8,"hi":52},{"x":36,"lo":9,"hi":51},{"x":38,"lo":9,"hi":52},{"x":40,"lo":9,"hi":52},{"x":42,"lo":9,"hi":52},{"x":44,"lo":9,"hi":52},{"x":46,"lo":9,"hi":52},{"x":48,"lo":9,"hi":53},{"x":50,"lo":9,"hi":52},{"x":52,"lo":9,"hi":54},{"x":54,"lo":9,"hi":52},{"x":56,"lo":9,"hi":53},{"x":58,"lo":9,"hi":55},{"x":60,"lo":9,"hi":56},{"x":62,"lo":8,"hi":51},{"x":64,"lo":9,"hi":52},{"x":66,"lo":9,"hi":52},{"x":68,"lo":9,"hi":52},{"x":70,"lo":9,"hi":54},{"x":72,"lo":9,"hi":50},{"x":74,"lo":9,"hi":52},{"x":76,"lo":9,"hi":50},{"x":78,"lo":9,"hi":52},{"x":80,"lo":9,"hi":52},{"x":82,"lo":9,"hi":51},{"x":84,"lo":8,"hi":52},{"x":86,"lo":9,"hi":52},{"x":88,"lo":9,"hi":51},{"x":90,"lo":9,"hi":52},{"x":92,"lo":10,"hi":50},{"x":94,"lo":9,"hi":51},{"x":96,"lo":8,"hi":50},{"x":98,"lo":9,"hi":51},{"x":100,"lo":8,"hi":53}]
},
"columns": 4,
"spacing": {"row": 90, "column": 36},
"bounds": "flush",
"concat": [
 {"title": {"text": "Concrete", "offset": -9}, "width": 232, "height": 179, "layer": [
  {"data": {"name": "LightGBM_Concrete_band"}, "mark": {"type": "area", "color": "#1f77b4", "opacity": 0.1}, "encoding": {"x": {"field": "x", "type": "quantitative", "scale": {"domain": [-5, 105], "nice": false, "zero": false}, "axis": {"values": [0, 50, 100], "title": "Boosting iteration (%)"}}, "y": {"field": "lo", "type": "quantitative", "scale": {"domain": [0, 100], "nice": false}, "axis": {"values": [0, 25, 50, 75, 100], "title": ["(LightGBM)", "% train visited"]}}, "y2": {"field": "hi"}}},
  {"data": {"name": "LightGBM_Concrete_mean"}, "mark": {"type": "line", "color": "#1f77b4", "strokeWidth": 1.5}, "encoding": {"x": {"field": "x", "type": "quantitative", "axis": {"values": [0, 50, 100], "title": "Boosting iteration (%)"}}, "y": {"field": "y", "type": "quantitative", "axis": {"values": [0, 25, 50, 75, 100], "title": ["(LightGBM)", "% train visited"]}}}}
 ]},
 {"title": "Kin8nm", "width": 232, "height": 179, "layer": [
  {"data": {"name": "LightGBM_Kin8nm_band"}, "mark": {"type": "area", "color": "#1f77b4", "opacity": 0.1}, "encoding": {"x": {"field": "x", "type": "quantitative", "scale": {"domain": [-5, 105], "nice": false, "zero": false}, "axis": {"values": [0, 50, 100], "title": "Boosting iteration (%)"}}, "y": {"field": "lo", "type": "quantitative", "scale": {"domain": [0, 100], "nice": false}, "axis": {"values": [0, 25, 50, 75, 100], "labels": false, "title": null}}, "y2": {"field": "hi"}}},
  {"data": {"name": "LightGBM_Kin8nm_mean"}, "mark": {"type": "line", "color": "#1f77b4", "strokeWidth": 1.5}, "encoding": {"x": {"field": "x", "type": "quantitative", "axis": {"values": [0, 50, 100], "title": "Boosting iteration (%)"}}, "y": {"field": "y", "type": "quantitative", "axis": {"values": [0, 25, 50, 75, 100], "labels": false, "title": null}}}}
 ]},
 {"title": "Synthetic", "width": 232, "height": 179, "layer": [
  {"data": {"name": "LightGBM_Synthetic_band"}, "mark": {"type": "area", "color": "#1f77b4", "opacity": 0.1}, "encoding": {"x": {"field": "x", "type": "quantitative", "scale": {"domain": [-5, 105], "nice": false, "zero": false}, "axis": {"values": [0, 50, 100], "title": "Boosting iteration (%)"}}, "y": {"field": "lo", "type": "quantitative", "scale": {"domain": [0, 100], "nice": false}, "axis": {"values": [0, 25, 50, 75, 100], "labels": false, "title": null}}, "y2": {"field": "hi"}}},
  {"data": {"name": "LightGBM_Synthetic_mean"}, "mark": {"type": "line", "color": "#1f77b4", "strokeWidth": 1.5}, "encoding": {"x": {"field": "x", "type": "quantitative", "axis": {"values": [0, 50, 100], "title": "Boosting iteration (%)"}}, "y": {"field": "y", "type": "quantitative", "axis": {"values": [0, 25, 50, 75, 100], "labels": false, "title": null}}}}
 ]},
 {"title": "Wine", "width": 232, "height": 179, "layer": [
  {"data": {"name": "LightGBM_Wine_band"}, "mark": {"type": "area", "color": "#1f77b4", "opacity": 0.1}, "encoding": {"x": {"field": "x", "type": "quantitative", "scale": {"domain": [-5, 105], "nice": false, "zero": false}, "axis": {"values": [0, 50, 100], "title": "Boosting iteration (%)"}}, "y": {"field": "lo", "type": "quantitative", "scale": {"domain": [0, 100], "nice": false}, "axis": {"values": [0, 25, 50, 75, 100], "labels": false, "title": null}}, "y2": {"field": "hi"}}},
  {"data": {"name": "LightGBM_Wine_mean"}, "mark": {"type": "line", "color": "#1f77b4", "strokeWidth": 1.5}, "encoding": {"x": {"field": "x", "type": "quantitative", "axis": {"values": [0, 50, 100], "title": "Boosting iteration (%)"}}, "y": {"field": "y", "type": "quantitative", "axis": {"values": [0, 25, 50, 75, 100], "labels": false, "title": null}}}}
 ]},
 {"title": {"text": "Concrete", "offset": -9}, "width": 232, "height": 179, "layer": [
  {"data": {"name": "XGBoost_Concrete_band"}, "mark": {"type": "area", "color": "#1f77b4", "opacity": 0.1}, "encoding": {"x": {"field": "x", "type": "quantitative", "scale": {"domain": [-5, 105], "nice": false, "zero": false}, "axis": {"values": [0, 50, 100], "title": "Boosting iteration (%)"}}, "y": {"field": "lo", "type": "quantitative", "scale": {"domain": [0, 100], "nice": false}, "axis": {"values": [0, 25, 50, 75, 100], "title": ["(XGBoost)", "% train visited"]}}, "y2": {"field": "hi"}}},
  {"data": {"name": "XGBoost_Concrete_mean"}, "mark": {"type": "line", "color": "#1f77b4", "strokeWidth": 1.5}, "encoding": {"x": {"field": "x", "type": "quantitative", "axis": {"values": [0, 50, 100], "title": "Boosting iteration (%)"}}, "y": {"field": "y", "type": "quantitative", "axis": {"values": [0, 25, 50, 75, 100], "title": ["(XGBoost)", "% train visited"]}}}}
 ]},
 {"title": "Kin8nm", "width": 232, "height": 179, "layer": [
  {"data": {"name": "XGBoost_Kin8nm_band"}, "mark": {"type": "area", "color": "#1f77b4", "opacity": 0.1}, "encoding": {"x": {"field": "x", "type": "quantitative", "scale": {"domain": [-5, 105], "nice": false, "zero": false}, "axis": {"values": [0, 50, 100], "title": "Boosting iteration (%)"}}, "y": {"field": "lo", "type": "quantitative", "scale": {"domain": [0, 100], "nice": false}, "axis": {"values": [0, 25, 50, 75, 100], "labels": false, "title": null}}, "y2": {"field": "hi"}}},
  {"data": {"name": "XGBoost_Kin8nm_mean"}, "mark": {"type": "line", "color": "#1f77b4", "strokeWidth": 1.5}, "encoding": {"x": {"field": "x", "type": "quantitative", "axis": {"values": [0, 50, 100], "title": "Boosting iteration (%)"}}, "y": {"field": "y", "type": "quantitative", "axis": {"values": [0, 25, 50, 75, 100], "labels": false, "title": null}}}}
 ]},
 {"title": "Synthetic", "width": 232, "height": 179, "layer": [
  {"data": {"name": "XGBoost_Synthetic_band"}, "mark": {"type": "area", "color": "#1f77b4", "opacity": 0.1}, "encoding": {"x": {"field": "x", "type": "quantitative", "scale": {"domain": [-5, 105], "nice": false, "zero": false}, "axis": {"values": [0, 50, 100], "title": "Boosting iteration (%)"}}, "y": {"field": "lo", "type": "quantitative", "scale": {"domain": [0, 100], "nice": false}, "axis": {"values": [0, 25, 50, 75, 100], "labels": false, "title": null}}, "y2": {"field": "hi"}}},
  {"data": {"name": "XGBoost_Synthetic_mean"}, "mark": {"type": "line", "color": "#1f77b4", "strokeWidth": 1.5}, "encoding": {"x": {"field": "x", "type": "quantitative", "axis": {"values": [0, 50, 100], "title": "Boosting iteration (%)"}}, "y": {"field": "y", "type": "quantitative", "axis": {"values": [0, 25, 50, 75, 100], "labels": false, "title": null}}}}
 ]},
 {"title": "Wine", "width": 232, "height": 179, "layer": [
  {"data": {"name": "XGBoost_Wine_band"}, "mark": {"type": "area", "color": "#1f77b4", "opacity": 0.1}, "encoding": {"x": {"field": "x", "type": "quantitative", "scale": {"domain": [-5, 105], "nice": false, "zero": false}, "axis": {"values": [0, 50, 100], "title": "Boosting iteration (%)"}}, "y": {"field": "lo", "type": "quantitative", "scale": {"domain": [0, 100], "nice": false}, "axis": {"values": [0, 25, 50, 75, 100], "labels": false, "title": null}}, "y2": {"field": "hi"}}},
  {"data": {"name": "XGBoost_Wine_mean"}, "mark": {"type": "line", "color": "#1f77b4", "strokeWidth": 1.5}, "encoding": {"x": {"field": "x", "type": "quantitative", "axis": {"values": [0, 50, 100], "title": "Boosting iteration (%)"}}, "y": {"field": "y", "type": "quantitative", "axis": {"values": [0, 25, 50, 75, 100], "labels": false, "title": null}}}}
 ]},
 {"title": {"text": "Concrete", "offset": -9}, "width": 232, "height": 179, "layer": [
  {"data": {"name": "CatBoost_Concrete_band"}, "mark": {"type": "area", "color": "#1f77b4", "opacity": 0.1}, "encoding": {"x": {"field": "x", "type": "quantitative", "scale": {"domain": [-5, 105], "nice": false, "zero": false}, "axis": {"values": [0, 50, 100], "title": "Boosting iteration (%)"}}, "y": {"field": "lo", "type": "quantitative", "scale": {"domain": [0, 100], "nice": false}, "axis": {"values": [0, 25, 50, 75, 100], "title": ["(CatBoost)", "% train visited"]}}, "y2": {"field": "hi"}}},
  {"data": {"name": "CatBoost_Concrete_mean"}, "mark": {"type": "line", "color": "#1f77b4", "strokeWidth": 1.5}, "encoding": {"x": {"field": "x", "type": "quantitative", "axis": {"values": [0, 50, 100], "title": "Boosting iteration (%)"}}, "y": {"field": "y", "type": "quantitative", "axis": {"values": [0, 25, 50, 75, 100], "title": ["(CatBoost)", "% train visited"]}}}}
 ]},
 {"title": "Kin8nm", "width": 232, "height": 179, "layer": [
  {"data": {"name": "CatBoost_Kin8nm_band"}, "mark": {"type": "area", "color": "#1f77b4", "opacity": 0.1}, "encoding": {"x": {"field": "x", "type": "quantitative", "scale": {"domain": [-5, 105], "nice": false, "zero": false}, "axis": {"values": [0, 50, 100], "title": "Boosting iteration (%)"}}, "y": {"field": "lo", "type": "quantitative", "scale": {"domain": [0, 100], "nice": false}, "axis": {"values": [0, 25, 50, 75, 100], "labels": false, "title": null}}, "y2": {"field": "hi"}}},
  {"data": {"name": "CatBoost_Kin8nm_mean"}, "mark": {"type": "line", "color": "#1f77b4", "strokeWidth": 1.5}, "encoding": {"x": {"field": "x", "type": "quantitative", "axis": {"values": [0, 50, 100], "title": "Boosting iteration (%)"}}, "y": {"field": "y", "type": "quantitative", "axis": {"values": [0, 25, 50, 75, 100], "labels": false, "title": null}}}}
 ]},
 {"title": "Synthetic", "width": 232, "height": 179, "layer": [
  {"data": {"name": "CatBoost_Synthetic_band"}, "mark": {"type": "area", "color": "#1f77b4", "opacity": 0.1}, "encoding": {"x": {"field": "x", "type": "quantitative", "scale": {"domain": [-5, 105], "nice": false, "zero": false}, "axis": {"values": [0, 50, 100], "title": "Boosting iteration (%)"}}, "y": {"field": "lo", "type": "quantitative", "scale": {"domain": [0, 100], "nice": false}, "axis": {"values": [0, 25, 50, 75, 100], "labels": false, "title": null}}, "y2": {"field": "hi"}}},
  {"data": {"name": "CatBoost_Synthetic_mean"}, "mark": {"type": "line", "color": "#1f77b4", "strokeWidth": 1.5}, "encoding": {"x": {"field": "x", "type": "quantitative", "axis": {"values": [0, 50, 100], "title": "Boosting iteration (%)"}}, "y": {"field": "y", "type": "quantitative", "axis": {"values": [0, 25, 50, 75, 100], "labels": false, "title": null}}}}
 ]},
 {"title": "Wine", "width": 232, "height": 179, "layer": [
  {"data": {"name": "CatBoost_Wine_band"}, "mark": {"type": "area", "color": "#1f77b4", "opacity": 0.1}, "encoding": {"x": {"field": "x", "type": "quantitative", "scale": {"domain": [-5, 105], "nice": false, "zero": false}, "axis": {"values": [0, 50, 100], "title": "Boosting iteration (%)"}}, "y": {"field": "lo", "type": "quantitative", "scale": {"domain": [0, 100], "nice": false}, "axis": {"values": [0, 25, 50, 75, 100], "labels": false, "title": null}}, "y2": {"field": "hi"}}},
  {"data": {"name": "CatBoost_Wine_mean"}, "mark": {"type": "line", "color": "#1f77b4", "strokeWidth": 1.5}, "encoding": {"x": {"field": "x", "type": "quantitative", "axis": {"values": [0, 50, 100], "title": "Boosting iteration (%)"}}, "y": {"field": "y", "type": "quantitative", "axis": {"values": [0, 25, 50, 75, 100], "labels": false, "title": null}}}}
 ]}
]
}
